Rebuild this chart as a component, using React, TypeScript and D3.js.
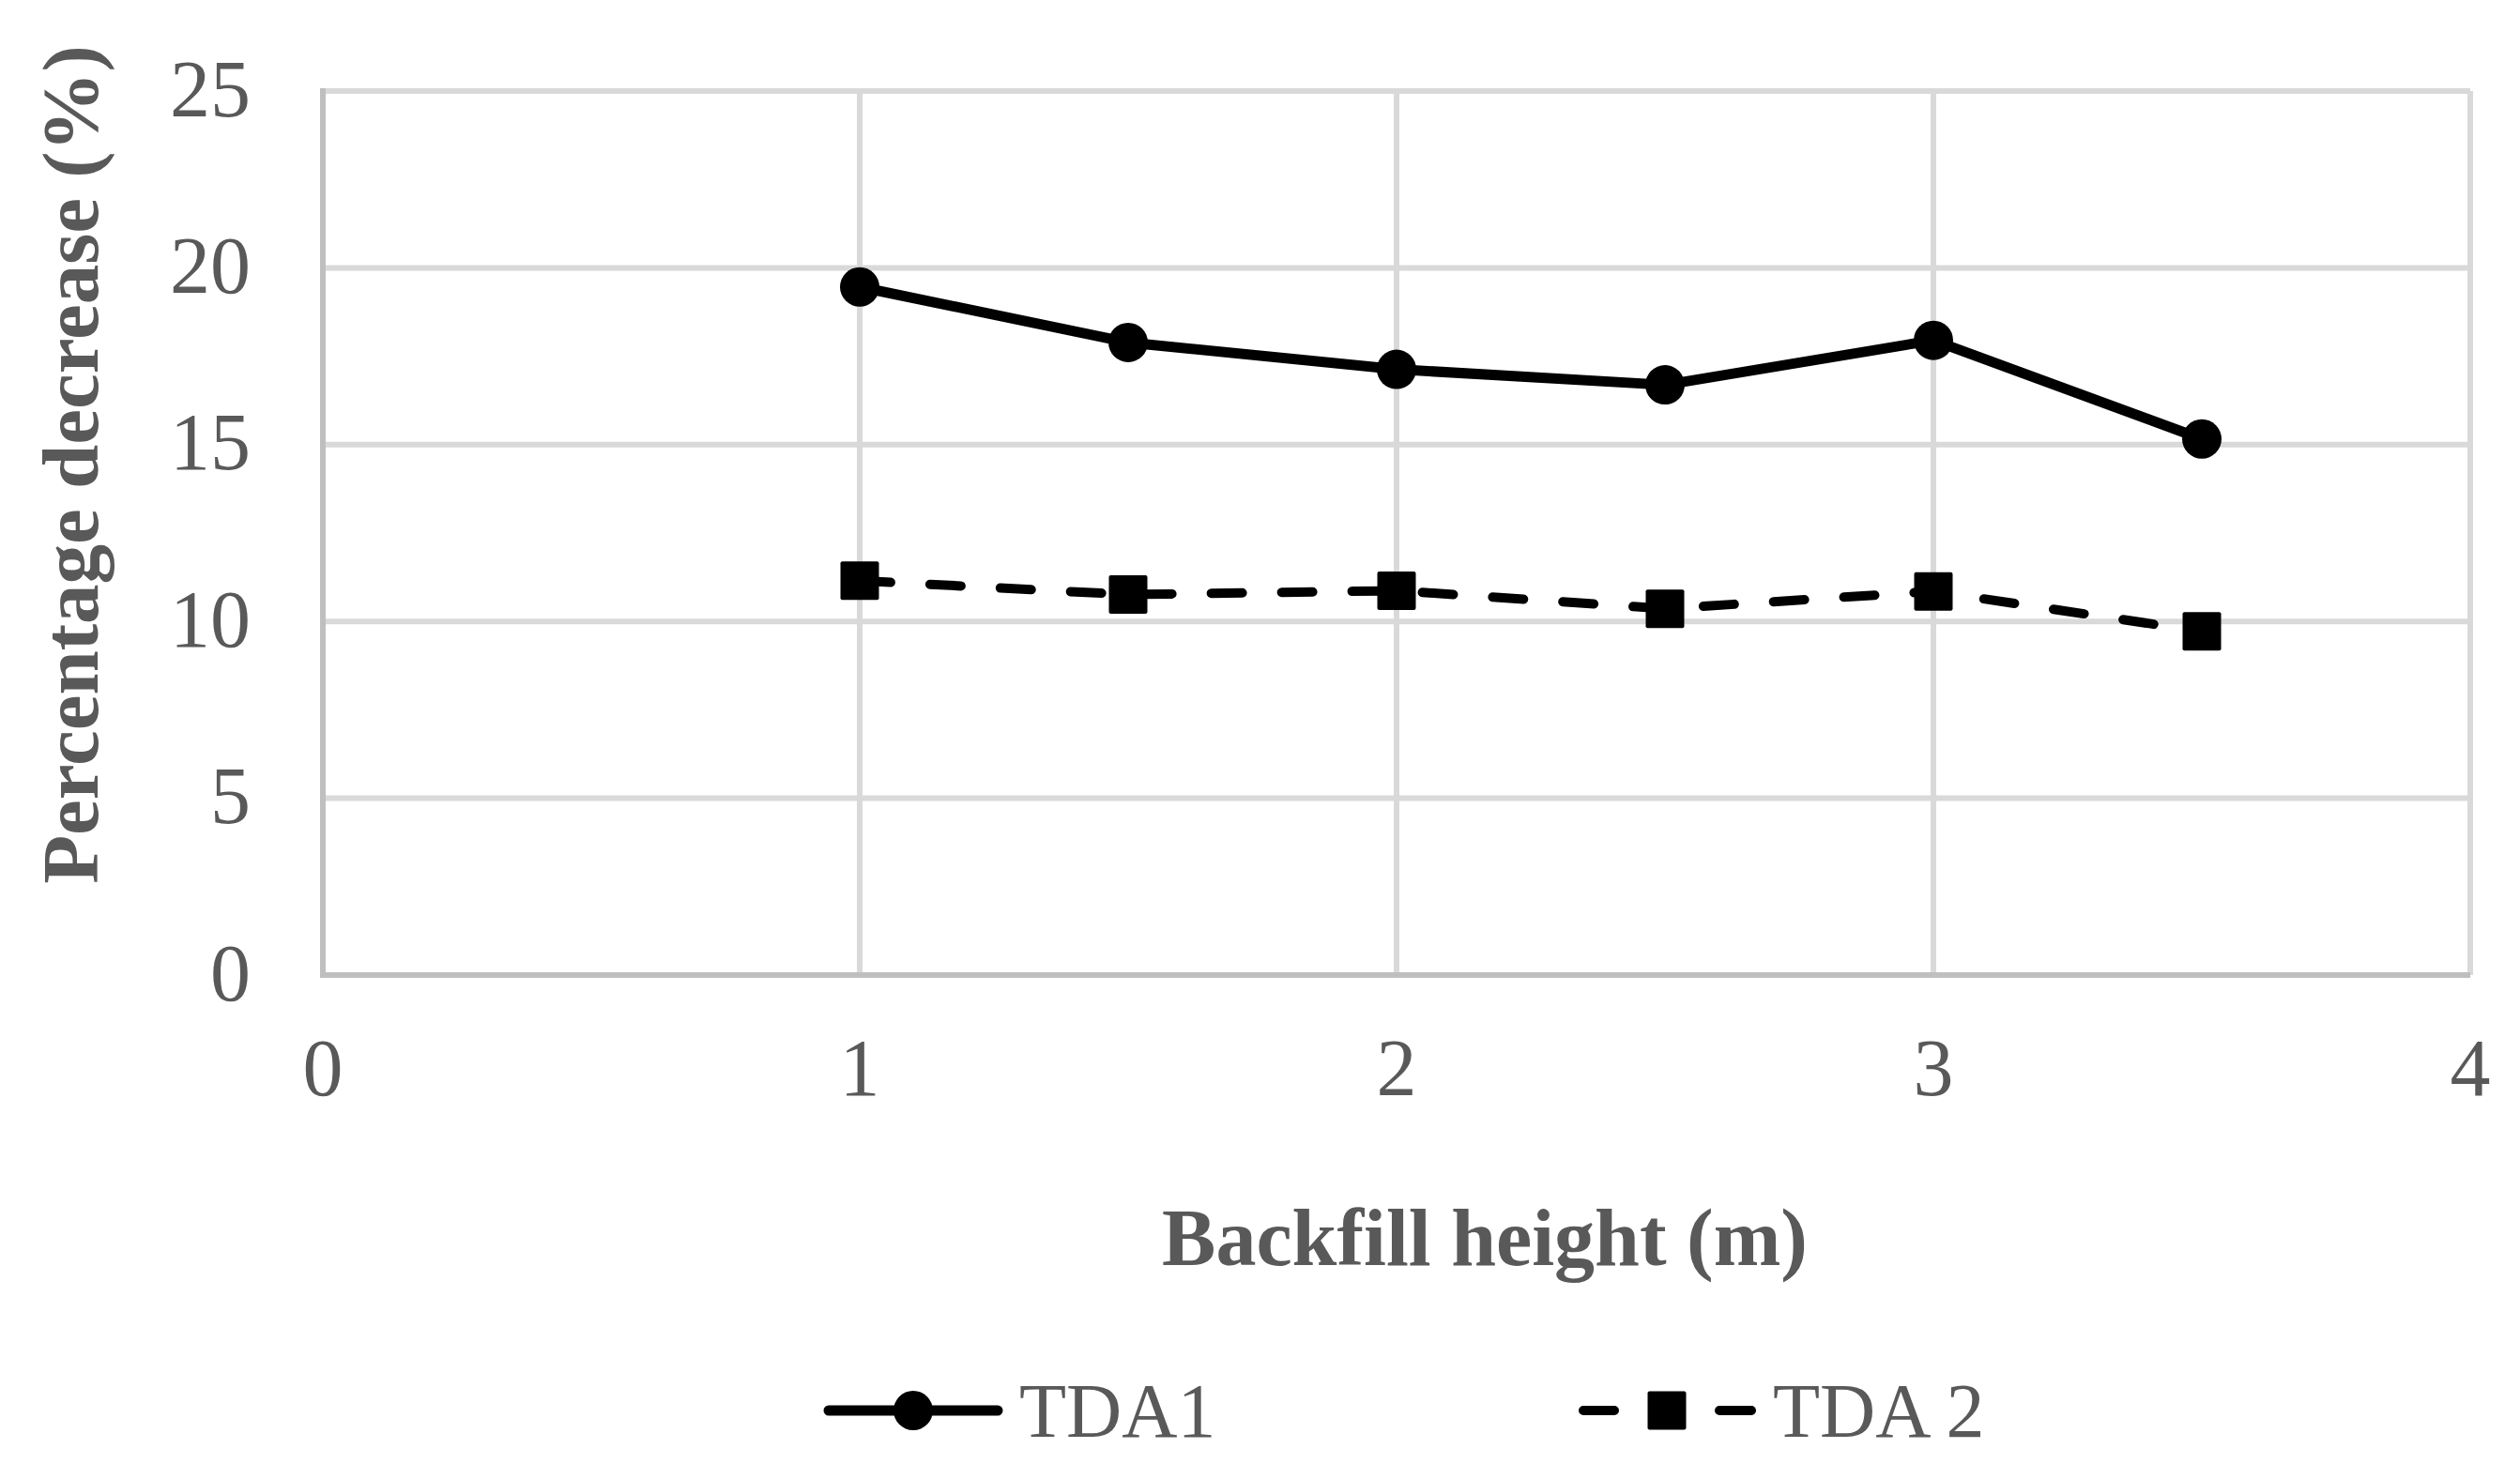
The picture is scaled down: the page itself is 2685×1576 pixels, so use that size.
import React from 'react';
import * as d3 from 'd3';

// backfill heights (m)
const heights = [1, 1.5, 2, 2.5, 3, 3.5];
// percentage decrease
const tda1 = [19.46, 17.89, 17.13, 16.69, 17.95, 15.16];
const tda2 = [11.15, 10.76, 10.87, 10.36, 10.85, 9.72];

const xTicks = [0, 1, 2, 3, 4];
const yTicks = [0, 5, 10, 15, 20, 25];

const seriesNames = ['TDA1', 'TDA 2'];

const W = 2685;
const H = 1576;
const TEXT = '#595959';
const FONT = '"Liberation Serif", "Times New Roman", serif';

export default function App() {
  const x = d3.scaleLinear().domain([0, 4]).range([344, 2632]);
  const y = d3.scaleLinear().domain([0, 25]).range([1039, 97]);

  const line = d3.line<[number, number]>()
    .x(d => x(d[0]))
    .y(d => y(d[1]));

  const pts1 = heights.map((h, i) => [h, tda1[i]] as [number, number]);
  const pts2 = heights.map((h, i) => [h, tda2[i]] as [number, number]);

  const dash = '33 42';
  const sq = 41;

  return (
    <svg width={W} height={H} style={{ position: 'absolute', left: 0, top: 0, background: '#fff' }}>
      <rect width={W} height={H} fill="#fff" />

      {/* horizontal grid */}
      {yTicks.filter(t => t > 0).map(t => (
        <line key={'gy' + t} x1={x(0)} x2={x(4)} y1={y(t)} y2={y(t)} stroke="#d9d9d9" strokeWidth={6} />
      ))}
      {/* vertical grid */}
      {xTicks.filter(t => t > 0).map(t => (
        <line key={'gx' + t} x1={x(t)} x2={x(t)} y1={y(0)} y2={y(25)} stroke="#d9d9d9" strokeWidth={6} />
      ))}
      {/* axes */}
      <line x1={x(0)} x2={x(0)} y1={y(0)} y2={y(25) - 3} stroke="#bfbfbf" strokeWidth={6} />
      <line x1={x(0) - 3} x2={x(4)} y1={y(0)} y2={y(0)} stroke="#bfbfbf" strokeWidth={6} />

      {/* tick labels */}
      {yTicks.map(t => (
        <text key={'ty' + t} x={267} y={y(t)} dy="0.31em" textAnchor="end"
          fontFamily={FONT} fontSize={86} fill={TEXT}>{t}</text>
      ))}
      {xTicks.map(t => (
        <text key={'tx' + t} x={x(t)} y={1167} textAnchor="middle"
          fontFamily={FONT} fontSize={86} fill={TEXT}>{t}</text>
      ))}

      {/* axis titles */}
      <text x={1582} y={1348} textAnchor="middle" fontFamily={FONT} fontSize={86}
        fontWeight="bold" fill={TEXT}>Backfill height (m)</text>
      <text transform="translate(104,495) rotate(-90)" textAnchor="middle" fontFamily={FONT}
        fontSize={85} fontWeight="bold" fill={TEXT}>Percentage decrease (%)</text>

      {/* series */}
      <path d={line(pts1) || ''} fill="none" stroke="#000" strokeWidth={11} strokeLinejoin="round" />
      {pts1.map((p, i) => (
        <circle key={'c' + i} cx={x(p[0])} cy={y(p[1])} r={21} fill="#000" />
      ))}
      <path d={line(pts2) || ''} fill="none" stroke="#000" strokeWidth={10}
        strokeDasharray={dash} strokeLinecap="round" />
      {pts2.map((p, i) => (
        <rect key={'s' + i} x={x(p[0]) - sq / 2} y={y(p[1]) - sq / 2} width={sq} height={sq}
          rx={2} fill="#000" />
      ))}

      {/* legend */}
      <g>
        <line x1={883} x2={1063} y1={1503} y2={1503} stroke="#000" strokeWidth={11} strokeLinecap="round" />
        <circle cx={973} cy={1503} r={21} fill="#000" />
        <text x={1086} y={1531} fontFamily={FONT} fontSize={82} fill={TEXT}>{seriesNames[0]}</text>

        <line x1={1687} x2={1866} y1={1503} y2={1503} stroke="#000" strokeWidth={10}
          strokeLinecap="round" strokeDasharray="33 112" />
        <line x1={1836} x2={1866} y1={1503} y2={1503} stroke="#000" strokeWidth={10} strokeLinecap="round" />
        <rect x={1776 - sq / 2} y={1503 - sq / 2} width={sq} height={sq} rx={2} fill="#000" />
        <text x={1889} y={1531} fontFamily={FONT} fontSize={82} fill={TEXT}>{seriesNames[1]}</text>
      </g>
    </svg>
  );
}
